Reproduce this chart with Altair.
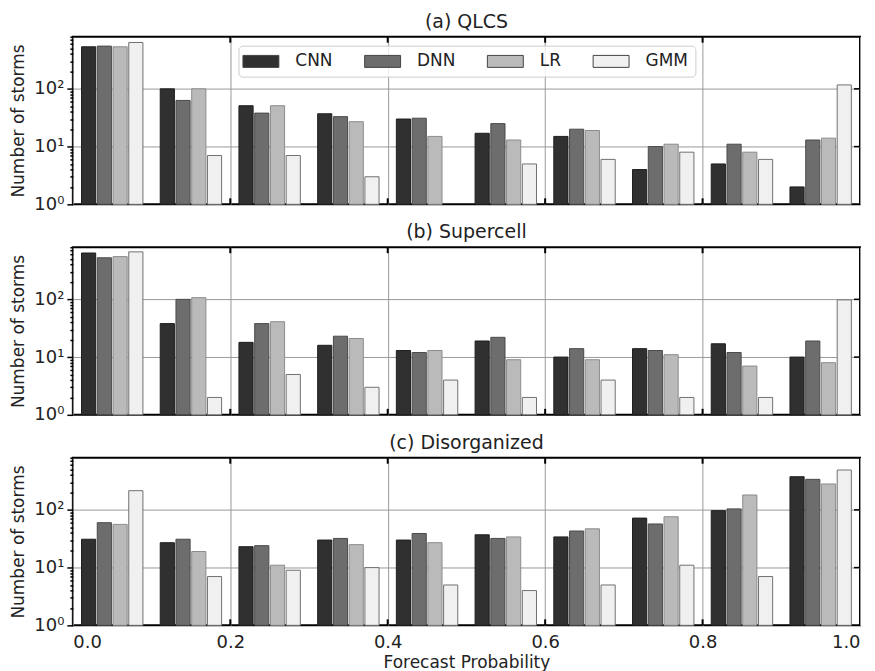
import altair as alt
import pandas as pd

# bins of forecast probability (left edges) and model names
bin_starts = [0.0, 0.1, 0.2, 0.3, 0.4, 0.5, 0.6, 0.7, 0.8, 0.9]
models = ["CNN", "DNN", "LR", "GMM"]
fills = ["#303030", "#6d6d6d", "#bababa", "#f0f0f0"]
strokes = ["#1e1e1e", "#4a4a4a", "#8c8c8c", "#707070"]

# (a) QLCS
qlcs_cnn = [535, 100, 51, 37, 30, 17, 15, 4, 5, 2]
qlcs_dnn = [550, 63, 38, 33, 31, 25, 20, 10, 11, 13]
qlcs_lr = [535, 100, 51, 27, 15, 13, 19, 11, 8, 14]
qlcs_gmm = [635, 7, 7, 3, 0, 5, 6, 8, 6, 117]

# (b) Supercell
super_cnn = [635, 38, 18, 16, 13, 19, 10, 14, 17, 10]
super_dnn = [525, 100, 38, 23, 12, 22, 14, 13, 12, 19]
super_lr = [550, 107, 41, 21, 13, 9, 9, 11, 7, 8]
super_gmm = [665, 2, 5, 3, 4, 2, 4, 2, 2, 98]

# (c) Disorganized
dis_cnn = [31, 27, 23, 30, 30, 37, 34, 72, 97, 375]
dis_dnn = [60, 31, 24, 32, 39, 32, 43, 57, 104, 338]
dis_lr = [56, 19, 11, 25, 27, 34, 47, 76, 181, 281]
dis_gmm = [215, 7, 9, 10, 5, 4, 5, 11, 7, 490]

x_ticks = [0.0, 0.2, 0.4, 0.6, 0.8, 1.0]
x_inner = [0.2, 0.4, 0.6, 0.8]
y_major = [1, 10, 100]
y_minor = [2, 3, 4, 5, 6, 7, 8, 9, 20, 30, 40, 50, 60, 70, 80, 90,
           200, 300, 400, 500, 600, 700, 800]

W, H = 789, 168
FONT = "DejaVu Sans"

xscale = alt.Scale(domain=[0, 1], nice=False, zero=False)
yscale = alt.Scale(type="log", domain=[1, 800], nice=False)

major_test = "datum.value == 1 || datum.value == 10 || datum.value == 100"
Y_TITLE = "Number of storms"


def panel(title, series, show_x, show_legend):
    rows = []
    for i, (m, vals) in enumerate(zip(models, series)):
        for b, v in zip(bin_starts, vals):
            if v > 0:
                left = b + 0.01 + 0.02 * i
                rows.append({"model": m, "left": left + 0.001,
                             "right": left + 0.019, "count": v, "base": 1})
    df = pd.DataFrame(rows)

    x_title = "Forecast Probability" if show_x else ""
    x_axis = alt.Axis(values=x_ticks, format=".1f", grid=True, gridColor="#999999",
                      gridWidth=1, ticks=False, domain=False, labels=show_x,
                      labelFontSize=18, labelPadding=8, titleFontSize=17,
                      titleFontWeight="normal", titlePadding=3)

    y_axis = alt.Axis(
        values=y_major + y_minor,
        labelExpr="datum.value == 1 ? '10⁰' : datum.value == 10 ? '10¹' : datum.value == 100 ? '10²' : ''",
        tickSize={"condition": {"test": major_test, "value": 6}, "value": 3},
        tickWidth=1.5,
        tickColor="black",
        gridOpacity={"condition": {"test": "datum.value == 10 || datum.value == 100", "value": 1}, "value": 0},
        grid=True, gridColor="#999999", domain=False,
        labelFontSize=18, labelPadding=3,
        titleFontSize=17, titleFontWeight="normal", titlePadding=6,
    )

    if show_legend:
        legend = alt.Legend(
            title=None, orient="none", legendX=166, legendY=9,
            direction="horizontal", columns=4,
            symbolType="M-3,-1L3,-1L3,1L-3,1Z",
            symbolSize=144, symbolOffset=7,
            symbolStrokeColor="#444444", symbolStrokeWidth=1,
            symbolOpacity=1, labelFontSize=17, labelOffset=26,
            columnPadding=29, padding=7,
            fillColor="rgba(255,255,255,0.8)", strokeColor="#cccccc",
            cornerRadius=4,
        )
    else:
        legend = None

    bars = alt.Chart(df).mark_bar(strokeWidth=1, opacity=1).encode(
        x=alt.X("left:Q", scale=xscale, axis=x_axis, title=x_title),
        x2="right:Q",
        y=alt.Y("count:Q", scale=yscale, axis=y_axis, title=Y_TITLE),
        y2="base:Q",
        fill=alt.Fill("model:N", scale=alt.Scale(domain=models, range=fills),
                      sort=models, legend=legend),
        stroke=alt.Stroke("model:N", scale=alt.Scale(domain=models, range=strokes),
                          legend=None),
    )

    xt = pd.DataFrame({"left": x_inner})
    yt = pd.DataFrame({"count": [10, 100]})
    top_ticks = alt.Chart(xt).mark_rule(color="black", strokeWidth=2).encode(
        x=alt.X("left:Q", scale=xscale, title=x_title), y=alt.value(0), y2=alt.value(6))
    bottom_ticks = alt.Chart(xt).mark_rule(color="black", strokeWidth=2).encode(
        x=alt.X("left:Q", scale=xscale, title=x_title), y=alt.value(H - 6), y2=alt.value(H))
    right_ticks = alt.Chart(yt).mark_rule(color="black", strokeWidth=1.5).encode(
        y=alt.Y("count:Q", scale=yscale, title=Y_TITLE), x=alt.value(W - 6), x2=alt.value(W))

    return alt.layer(bars, top_ticks, bottom_ticks, right_ticks).properties(
        width=W, height=H,
        title=alt.Title(title, fontSize=19, fontWeight="normal", font=FONT,
                        offset=4, color="#222222"),
    )


pa = panel("(a) QLCS", [qlcs_cnn, qlcs_dnn, qlcs_lr, qlcs_gmm], False, True)
pb = panel("(b) Supercell", [super_cnn, super_dnn, super_lr, super_gmm], False, False)
pc = panel("(c) Disorganized", [dis_cnn, dis_dnn, dis_lr, dis_gmm], True, False)

chart = alt.vconcat(pa, pb, pc, spacing=8).resolve_legend(
    fill="independent"
).properties(
    padding={"left": 0, "top": 3, "right": 5, "bottom": 0}
).configure_view(
    stroke="black", strokeWidth=2
).configure_axis(
    labelFont=FONT, titleFont=FONT, labelColor="#222222", titleColor="#222222"
).configure_legend(
    labelFont=FONT, labelColor="#222222"
)

chart.save("out.html", embed_options={"renderer": "svg", "actions": False})
